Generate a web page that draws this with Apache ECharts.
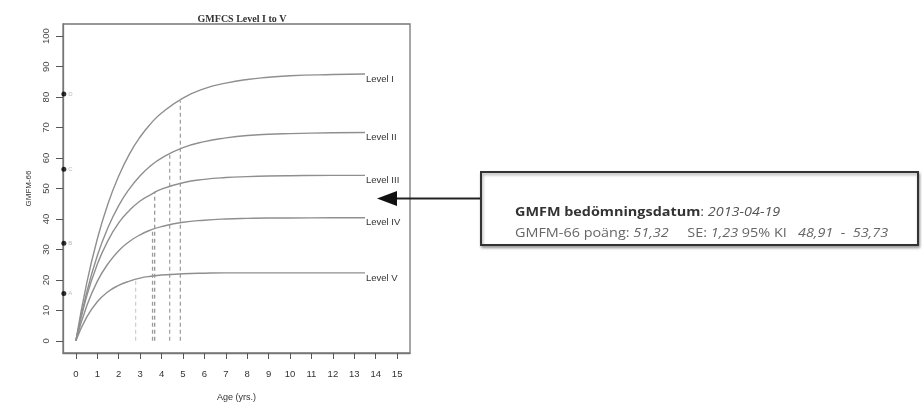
<!DOCTYPE html>
<html><head><meta charset="utf-8">
<script src="https://cdn.jsdelivr.net/npm/echarts@6/dist/echarts.min.js"></script>
<style>html,body{margin:0;padding:0;background:#fff}#c{width:922px;height:407px}</style>
</head><body><div id="c"></div>
<script>
const title = 'GMFCS Level I to V';
const xTicks = [0,1,2,3,4,5,6,7,8,9,10,11,12,13,14,15];
const yTicks = [0,10,20,30,40,50,60,70,80,90,100];
const ages = [0,0.5,1,1.5,2,2.5,3,3.5,4,5,6,7,8,9,10,12,13.5];
const levelI   = [0,18.7,33.4,45.0,54.1,61.3,66.9,71.3,74.8,79.7,82.8,84.6,85.8,86.5,87.0,87.4,87.6];
const levelII  = [0,15.7,27.9,37.2,44.4,49.9,54.2,57.5,60.0,63.4,65.4,66.6,67.4,67.8,68.0,68.3,68.4];
const levelIII = [0,14.5,25.1,32.9,38.7,42.8,45.9,48.0,49.8,51.9,53.0,53.6,53.9,54.1,54.2,54.3,54.3];
const levelIV  = [0,11.3,19.5,25.3,29.6,32.6,34.8,36.4,37.5,38.9,39.6,40.0,40.2,40.3,40.3,40.4,40.4];
const levelV   = [0,7.7,12.8,16.1,18.2,19.6,20.6,21.2,21.6,22.0,22.2,22.3,22.3,22.3,22.3,22.3,22.3];
const levelNames = ['Level I','Level II','Level III','Level IV','Level V'];
const age90 = [2.79, 3.58, 3.68, 4.38, 4.88];
const age90Top = [20.0, 36.3, 48.9, 61.0, 78.7];
const age90Colors = ['#cfcfcf','#9a9a9a','#9a9a9a','#a8a8a8','#a0a0a0'];
const refLetters = ['A','B','C','D'];
const refValues = [15.5, 32.0, 56.3, 81.0];
const refX = -0.56;

const curves = [levelI, levelII, levelIII, levelIV, levelV];
const series = [];
curves.forEach((vals, i) => {
  series.push({
    type: 'line', name: levelNames[i], smooth: true, symbol: 'none',
    data: ages.map((a, k) => [a, vals[k]]),
    lineStyle: { color: '#8f8f8f', width: 1.4 },
    endLabel: { show: true, formatter: '{a}', fontSize: 9.5, color: '#333', distance: 1, offset: [0, 5], fontFamily: 'Liberation Sans' },
    z: 3
  });
});
age90.forEach((a, i) => {
  series.push({
    type: 'line', symbol: 'none', silent: true,
    data: [[a, 0], [a, age90Top[i]]],
    lineStyle: { color: age90Colors[i], width: 1.3, type: [4, 3] },
    z: 2
  });
});
series.push({
  type: 'scatter', clip: false, symbolSize: 5,
  data: refValues.map((v, i) => ({ value: [refX, v], name: refLetters[i] })),
  itemStyle: { color: '#000' },
  label: { show: true, position: 'right', distance: 2, formatter: '{b}', fontSize: 6, color: '#aaa' },
  z: 5
});

const chart = echarts.init(document.getElementById('c'), null, { renderer: 'canvas' });
chart.setOption({
  animation: false,
  title: { text: title, left: 237, top: 9, textAlign: 'center',
    textStyle: { fontFamily: 'Liberation Serif', fontWeight: 'bold', fontSize: 10, color: '#333' } },
  grid: { left: 63, right: 512, top: 24, bottom: 49, show: true, borderColor: '#777', borderWidth: 1.3, backgroundColor: 'transparent' },
  xAxis: {
    type: 'value', min: -0.6, max: 15.6,
    name: 'Age (yrs.)', nameLocation: 'middle', nameGap: 40,
    nameTextStyle: { fontSize: 9, color: '#333', fontFamily: 'Liberation Sans' },
    axisLine: { show: true, onZero: false, lineStyle: { color: '#777', width: 1.3 } },
    axisTick: { show: true, inside: false, length: 6, lineStyle: { color: '#555', width: 1 }, customValues: xTicks },
    axisLabel: { customValues: xTicks, fontSize: 9.5, color: '#333', margin: 16, fontFamily: 'Liberation Sans' },
    splitLine: { show: false }
  },
  yAxis: {
    type: 'value', min: -4, max: 104,
    name: 'GMFM-66', nameLocation: 'middle', nameGap: 30, nameRotate: 90,
    nameTextStyle: { fontSize: 8, color: '#333', fontFamily: 'Liberation Sans' },
    axisLine: { show: true, onZero: false, lineStyle: { color: '#777', width: 1.3 } },
    axisTick: { show: true, inside: false, length: 7, lineStyle: { color: '#555', width: 1 }, customValues: yTicks },
    axisLabel: { customValues: yTicks, rotate: 90, fontSize: 9.5, color: '#444', margin: 12, fontFamily: 'Liberation Sans' },
    splitLine: { show: false }
  },
  series: series,
  graphic: [
    { type: 'line', shape: { x1: 394, y1: 198.5, x2: 482, y2: 198.5 }, style: { stroke: '#222', lineWidth: 2 } },
    { type: 'polygon', shape: { points: [[377, 198.5], [397, 191], [397, 206]] }, style: { fill: '#111' } },
    { type: 'rect', shape: { x: 481, y: 172, width: 437, height: 73 },
      style: { fill: '#fff', stroke: '#333', lineWidth: 2, shadowBlur: 3, shadowColor: 'rgba(0,0,0,0.35)', shadowOffsetX: 1, shadowOffsetY: 2 } },
    { type: 'text', x: 515, y: 207, scaleX: 1.2,
      style: { text: '{b|GMFM bedömningsdatum}{n|: }{i|2013-04-19}',
        rich: {
          b: { fontFamily: 'Open Sans', fontWeight: 'bold', fontSize: 12, fill: '#333' },
          n: { fontFamily: 'Open Sans', fontSize: 12, fill: '#555' },
          i: { fontFamily: 'Open Sans', fontStyle: 'italic', fontSize: 12, fill: '#555' }
        } } },
    { type: 'text', x: 515, y: 228, scaleX: 1.2,
      style: { text: '{n|GMFM-66 poäng: }{i|51,32}{n|     SE: }{i|1,23}{n| 95% KI   }{i|48,91  -  53,73}',
        rich: {
          n: { fontFamily: 'Open Sans', fontSize: 12, fill: '#666' },
          i: { fontFamily: 'Open Sans', fontStyle: 'italic', fontSize: 12, fill: '#666' }
        } } }
  ]
});
</script></body></html>
